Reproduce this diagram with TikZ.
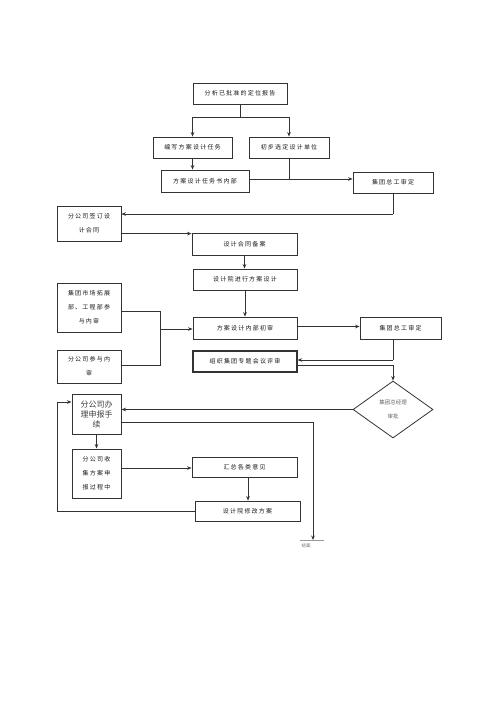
\documentclass[tikz,border=0pt]{standalone}
\usepackage{fontspec}
\newfontfamily\cjk[LetterSpace=20]{Noto Sans CJK SC}
\newfontfamily\cjkp{Noto Sans CJK SC}
\usetikzlibrary{arrows.meta,shapes.geometric}
\begin{document}
\begin{tikzpicture}[x=1pt,y=-1pt,
  box/.style={draw=black!80, line width=0.8pt, inner sep=0pt, align=center,
    text=black!90, font=\cjk\fontsize{6}{14}\selectfont},
  bigbox/.style={box, line width=1pt, text=black!75, font=\cjkp\fontsize{8}{10}\selectfont},
  ln/.style={draw=black!80, line width=0.9pt},
  arr/.style={ln, -{Stealth[length=4.5pt,width=3.6pt]}}]
\fill[white] (0,0) rectangle (500,707);
\useasboundingbox (0,0) rectangle (500,707);

% nodes
\node[box, minimum width=94, minimum height=21] (top) at (240,93.5) {分析已批准的定位报告};
\node[box, minimum width=79, minimum height=21] (bx) at (192.5,147.5) {编写方案设计任务};
\node[box, minimum width=80, minimum height=21] (cb) at (289,147.5) {初步选定设计单位};
\node[box, minimum width=88, minimum height=22] (rw) at (205,181) {方案设计任务书内部};
\node[box, minimum width=80, minimum height=21] (zg1) at (393,182.5) {集团总工审定};
\node[box, minimum width=64, minimum height=35] (qd) at (89,223.5) {分公司签订设\\计合同};
\node[box, minimum width=105, minimum height=22] (ba) at (244.5,244) {设计合同备案};
\node[box, minimum width=104, minimum height=21] (sj) at (245,279.5) {设计院进行方案设计};
\node[box, minimum width=64, minimum height=49] (sc) at (89,307.5) {集团市场拓展\\部、工程部参\\与内审};
\node[box, minimum width=64, minimum height=33] (fg) at (89,366.5) {分公司参与内\\审};
\node[box, minimum width=104, minimum height=22] (cs) at (245,328) {方案设计内部初审};
\node[box, minimum width=81, minimum height=22] (zg2) at (400.5,328) {集团总工审定};
\node[box, line width=1.1pt, minimum width=104, minimum height=21] (zz) at (245,361.5) {组织集团专题会议评审};
\node[draw=black!80, line width=0.8pt, diamond, aspect=1.4, inner sep=0pt,
  minimum width=80, minimum height=57, align=center, text=black!60,
  font=\cjkp\fontsize{5.5}{14}\selectfont] (dm) at (393,409.5) {集团总经理\\审批};
\node[bigbox, minimum width=49, minimum height=40] (sb) at (96.5,414) {分公司办\\理申报手\\续};
\node[box, line width=1pt, minimum width=49, minimum height=49] (sq) at (96.5,473.5) {分公司收\\集方案申\\报过程中};
\node[box, minimum width=105, minimum height=20] (hz) at (244.5,467) {汇总各类意见};
\node[box, minimum width=105, minimum height=20] (xg) at (247.5,511) {设计院修改方案};
\node[inner sep=0pt, text=black!55, font=\cjkp\fontsize{4.5}{5}\selectfont] (end) at (306,546) {结案};

% coordinates
\coordinate (j1) at (240,117);
\coordinate (j2) at (289,179);
\coordinate (j3) at (393,214);
\coordinate (j4) at (160,311);
\coordinate (j5) at (160,365);
\coordinate (j6) at (160,329);
\coordinate (j7) at (393,360);
\coordinate (j8) at (393,365);
\coordinate (j9) at (313,422);
\coordinate (j10) at (313,540);
\coordinate (j11) at (57,511);
\coordinate (j12) at (57,402);
\coordinate (e1) at (300,540);
\coordinate (e2) at (324,540);

% connectors
\draw[ln] (top.south) -- (j1);
\draw[arr] (j1) -| (bx.north);
\draw[arr] (j1) -| (cb.north);
\draw[arr] (bx.south) -- (bx.south |- rw.north);
\draw[ln] (cb.south) -- (j2);
\draw[arr] (rw.east |- j2) -- (zg1.west |- j2);
\draw[ln] (zg1.south) -- (j3);
\draw[arr] (j3) -- (qd.east |- j3);
\draw[arr] ([yshift=-1pt]qd.east |- ba.north) -- ([yshift=-1pt]ba.north west);
\draw[arr] (ba.south) -- (ba.south |- sj.north);
\draw[arr] (sj.south) -- (cs.north);
\draw[ln] (sc.east |- j4) -- (j4) -- (j5) -- (fg.east |- j5);
\draw[arr] (j6) -- (cs.west |- j6);
\draw[arr] ([yshift=1.5pt]cs.east) -- ([yshift=1.5pt]zg2.west);
\draw[ln] (zg2.south -| j7) -- (j7);
\draw[arr] (j7) -- (zz.east |- j7);
\draw[ln] (zz.east |- j8) -- (j8);
\draw[arr] (j8) -- (dm.north);
\draw[arr] (dm.west) -- (sb.east |- dm.west);
\draw[ln] (sb.east |- j9) -- (j9);
\draw[arr] (j9) -- (j10);
\draw[draw=black!40, line width=0.6pt] (e1) -- (e2);
\draw[arr] (sb.south) -- (sq.north);
\draw[arr] (sq.east |- 0,468) -- (hz.west |- 0,468);
\draw[arr] (hz.south -| 248,0) -- (xg.north -| 248,0);
\draw[ln] (xg.west) -- (j11) -- (j12);
\draw[arr] (j12) -- (sb.west |- j12);
\end{tikzpicture}
\end{document}
